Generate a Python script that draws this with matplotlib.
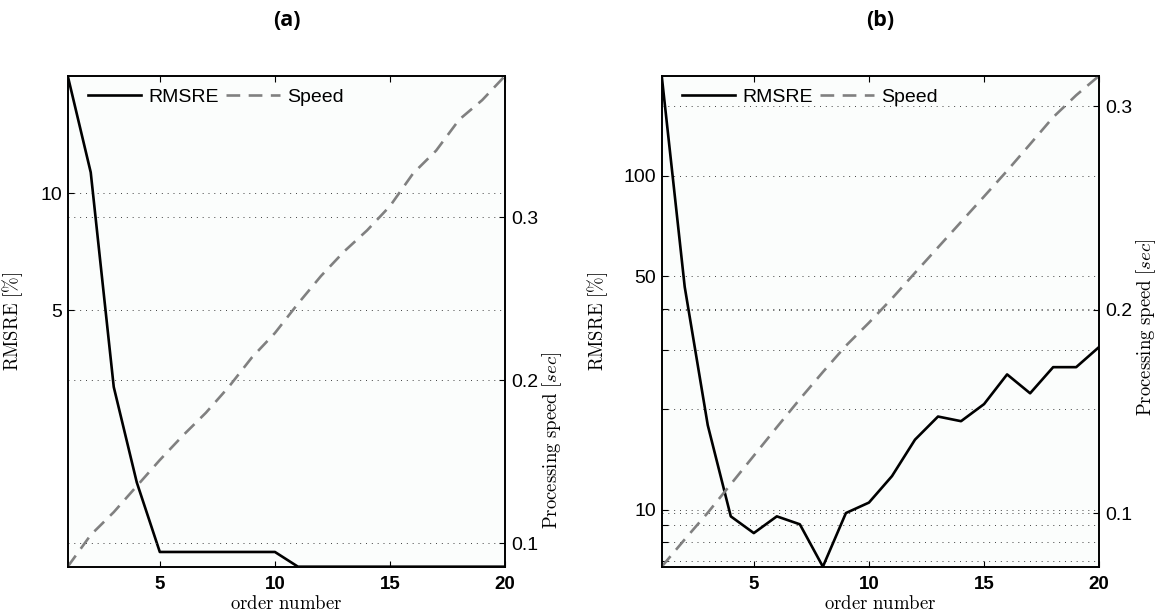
import numpy as np
import matplotlib
matplotlib.use('Agg')
import matplotlib.pyplot as plt
from matplotlib.ticker import NullLocator, FixedLocator, FixedFormatter

plt.rcParams['font.family'] = ['Liberation Sans', 'DejaVu Sans']
plt.rcParams['mathtext.fontset'] = 'cm'

order = np.arange(1, 21)

# (a) errors and timings
rmsre_a = [20.0, 11.3, 3.18, 1.81, 1.20, 1.20, 1.20, 1.20, 1.20, 1.20,
           1.10, 1.10, 1.10, 1.10, 1.10, 1.10, 1.10, 1.10, 1.10, 1.10]
speed_a = [0.0855, 0.105, 0.119, 0.135, 0.151, 0.166, 0.180, 0.196, 0.214, 0.229,
           0.247, 0.264, 0.279, 0.292, 0.307, 0.327, 0.341, 0.360, 0.372, 0.387]

# (b) errors and timings
rmsre_b = [199.0, 46.4, 17.9, 9.55, 8.51, 9.55, 9.04, 6.75, 9.77, 10.5,
           12.6, 16.2, 19.0, 18.4, 20.7, 25.4, 22.3, 26.7, 26.7, 30.7]
speed_b = [0.0738, 0.0872, 0.1003, 0.1143, 0.1283, 0.1423, 0.1561, 0.1694, 0.1823, 0.1936,
           0.2055, 0.2181, 0.2306, 0.2431, 0.2556, 0.2682, 0.2813, 0.2945, 0.3053, 0.3149]

xticks = [5, 10, 15, 20]
yticks_a = [5, 10]
yticklabels_a = ['5', '10']
yticks_b = [7, 8, 9, 10, 20, 30, 40, 50, 100]
yticklabels_b = ['', '', '', '10', '', '', '', '50', '100']
speed_ticks = [0.1, 0.2, 0.3]
speed_ticklabels = ['0.1', '0.2', '0.3']

W, H = 1159, 614
fig = plt.figure(figsize=(W / 100, H / 100), dpi=100)

grid_kw = dict(color='0.25', linestyle=(0, (1, 5)), linewidth=0.7)
dash = (0, (5.2, 3.2))


def panel(left_px, rmsre, speed, yt, ytl, title, llabel_x, rlabel_y):
    ax = fig.add_axes([left_px / W, 47.3 / H, 437.5 / W, 491 / H])
    ax.set_facecolor('#fbfdfc')
    l1, = ax.plot(order, rmsre, color='black', lw=1.9, label='RMSRE')
    ax.set_yscale('log')
    ax.set_xlim(1, 20)
    ax.set_ylim(min(rmsre), max(rmsre))
    ax.yaxis.set_major_locator(FixedLocator(yt))
    ax.yaxis.set_major_formatter(FixedFormatter(ytl))
    ax.yaxis.set_minor_locator(NullLocator())
    ax.set_xticks(xticks)
    ax.set_xticklabels([str(t) for t in xticks], fontweight='bold', fontsize=13.5)
    ax.tick_params(axis='x', direction='in', length=4, pad=7, top=True)
    ax.tick_params(axis='y', direction='in', length=4, pad=4, labelsize=14)
    ax.grid(axis='y', **grid_kw)
    ax.set_ylabel(r'$\mathrm{RMSRE}\ [\%]$', fontsize=13.5)
    ax.yaxis.set_label_coords(llabel_x, 0.5)
    ax.set_xlabel(r'$\mathrm{order\ number}$', fontsize=13.5, labelpad=1)

    ax2 = ax.twinx()
    l2, = ax2.plot(order, speed, color='#808080', lw=1.9, linestyle=dash, label='Speed')
    ax2.set_ylim(min(speed), max(speed))
    ax2.set_yticks(speed_ticks)
    ax2.set_yticklabels(speed_ticklabels)
    ax2.tick_params(axis='y', direction='in', length=4, pad=4, labelsize=14)
    ax2.grid(axis='y', **grid_kw)
    ax2.set_ylabel(r'$\mathrm{Processing\ speed}\ [sec]$', fontsize=13.5)
    ax2.yaxis.set_label_coords(1.08, rlabel_y)

    for a in (ax, ax2):
        for s in a.spines.values():
            s.set_linewidth(1.2)

    ax2.legend(handles=[l1, l2], loc='upper left', bbox_to_anchor=(0.046, 0.975),
               ncol=2, frameon=False, fontsize=14, handlelength=2.75,
               handletextpad=0.35, columnspacing=0.4, borderpad=0, borderaxespad=0)

    fig.text((left_px + 218.7) / W, 1 - 21 / H, title, ha='center', va='center',
             fontsize=15.5, fontweight='bold', family='Open Sans')
    return ax, ax2


panel(67.7, rmsre_a, speed_a, yticks_a, yticklabels_a, '(a)', -0.098, (566.7 - 440) / 491)
panel(661.7, rmsre_b, speed_b, yticks_b, yticklabels_b, '(b)', -0.118, (566.7 - 327) / 491)

fig.savefig('out.png', dpi=100)
